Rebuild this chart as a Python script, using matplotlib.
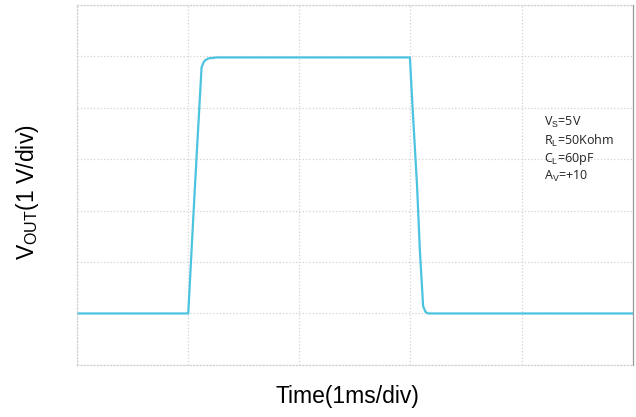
#!/usr/bin/env python3
"""Step response of the amplifier output, oscilloscope-style grid."""

import matplotlib
matplotlib.use("Agg")
import matplotlib.pyplot as plt
import numpy as np

plt.rcParams["font.family"] = ["Liberation Sans", "DejaVu Sans"]
plt.rcParams["mathtext.fontset"] = "custom"
plt.rcParams["mathtext.rm"] = "Liberation Sans"
plt.rcParams["mathtext.it"] = "Liberation Sans:italic"

# time in ms (1 div = 1 ms), output in V relative to the baseline (1 div = 1 V)
time_ms = [0.0, 1.001, 1.046, 1.076, 1.121, 1.138, 1.151, 1.18, 1.256,
           2.995, 3.019, 3.06, 3.085, 3.114, 3.135, 3.16, 5.0]
vout_v = [0.0, 0.0, 1.85, 3.05, 4.79, 4.88, 4.92, 4.96, 4.98,
          4.98, 4.0, 2.45, 1.2, 0.14, 0.03, 0.0, 0.0]

conditions = [r"V$_\mathrm{S}$=5V", r"R$_\mathrm{L}$=50Kohm",
              r"C$_\mathrm{L}$=60pF", r"A$_\mathrm{V}$=+10"]

X_DIVS = 5
Y_LO, Y_HI = -1, 6

LINE = "#4cc3df"
GRID = "#d2d2d2"


def main():
    fig = plt.figure(figsize=(6.36, 4.17), dpi=100)
    ax = fig.add_axes([0.121, 0.125, 0.874, 0.863])

    ax.plot(time_ms, vout_v, color=LINE, linewidth=1.6, solid_joinstyle="round")

    ax.set_xlim(0, X_DIVS)
    ax.set_ylim(Y_LO, Y_HI)
    ax.set_xticks(np.arange(0, X_DIVS + 1))
    ax.set_yticks(np.arange(Y_LO, Y_HI + 1))
    ax.tick_params(length=0, labelbottom=False, labelleft=False)
    ax.grid(True, linestyle=":", color=GRID, linewidth=0.9)
    for side in ("left", "top", "bottom"):
        ax.spines[side].set_linestyle(":")
        ax.spines[side].set_color(GRID)
        ax.spines[side].set_linewidth(0.9)
    ax.spines["right"].set_color("#9a9a9a")
    ax.spines["right"].set_linewidth(0.9)

    for i, txt in enumerate(conditions):
        ax.text(4.2, 3.71 - i * 0.35, txt, fontsize=9, color="#222222",
                family=["Open Sans", "DejaVu Sans"], va="center", ha="left")

    fig.text(0.546, 0.048, "Time(1ms/div)", fontsize=16.5, ha="center", va="center")
    fig.text(0.043, 0.54, r"V$_\mathrm{OUT}$(1 V/div)", fontsize=16.5, rotation=90,
             ha="center", va="center")

    fig.savefig("out.png", dpi=100)
    plt.close(fig)


if __name__ == "__main__":
    main()
